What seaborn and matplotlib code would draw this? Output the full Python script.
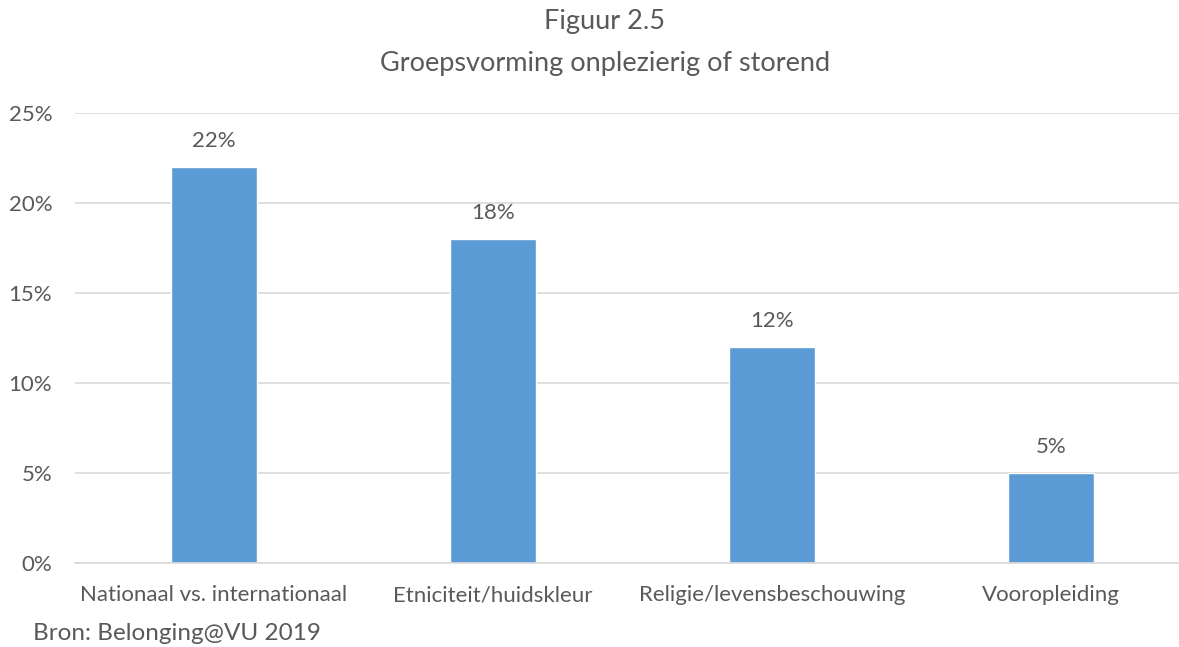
import matplotlib
matplotlib.use("Agg")
import matplotlib.pyplot as plt
import seaborn as sns
import pandas as pd

categories = ["Nationaal vs. internationaal", "Etniciteit/huidskleur",
              "Religie/levensbeschouwing", "Vooropleiding"]
values = [22, 18, 12, 5]
yticks = [0, 5, 10, 15, 20, 25]

df = pd.DataFrame({"categorie": categories, "percentage": values})

sns.set_theme(style="white")
plt.rcParams["font.family"] = ["Lato", "DejaVu Sans"]
text_color = "#595959"

fig = plt.figure(figsize=(11.79, 6.47), dpi=100)
W, H = 1179, 647
# axes from x=74.5 to 1190.5 (bleeds off right edge), y from 563 to 113
ax = fig.add_axes([74.5 / W, (H - 563) / H, (1190.5 - 74.5) / W, (563 - 113) / H])

sns.barplot(data=df, x="categorie", y="percentage", color="#5B9BD5",
            width=0.31, saturation=1, ax=ax)

ax.set_xlim(-0.5, 3.5)
ax.set_ylim(0, 25)
ax.set_yticks(yticks)
ax.set_yticklabels([f"{t}%" for t in yticks])
ax.yaxis.grid(True, color="#D9D9D9", linewidth=1.2)
ax.set_axisbelow(True)
for s in ["top", "right", "left"]:
    ax.spines[s].set_visible(False)
ax.spines["bottom"].set_color("#D9D9D9")
ax.spines["bottom"].set_linewidth(1.2)
ax.set_xlabel("")
ax.set_ylabel("")
ax.tick_params(axis="y", length=0, pad=16, labelsize=16, labelcolor=text_color)
ax.tick_params(axis="x", length=0, pad=16, labelsize=16, labelcolor=text_color)

for i, v in enumerate(values):
    ax.annotate(f"{v}%", (i, v), xytext=(0, 26), textcoords="offset pixels",
                ha="center", va="center", fontsize=16, color=text_color)

fig.text(605 / W, 1 - 22 / H, "Figuur 2.5", ha="center", va="center",
         fontsize=19.5, color=text_color)
fig.text(605 / W, 1 - 63 / H, "Groepsvorming onplezierig of storend",
         ha="center", va="center", fontsize=19.5, color=text_color)
fig.text(33 / W, 1 - 634 / H, "Bron: Belonging@VU 2019", ha="left",
         va="center", fontsize=17.5, color=text_color)

fig.savefig("out.png", dpi=100, facecolor="white")
